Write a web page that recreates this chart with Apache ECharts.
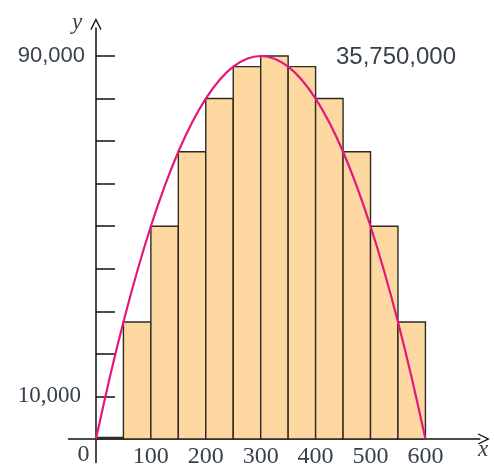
<!DOCTYPE html>
<html>
<head>
<meta charset="utf-8">
<script src="https://cdn.jsdelivr.net/npm/echarts@6/dist/echarts.min.js"></script>
<style>html,body{margin:0;padding:0;background:#fff}#c{width:494px;height:466px}</style>
</head>
<body>
<div id="c"></div>
<script>
// Rectangle left edges, right edges and heights (left-endpoint rectangles)
var barLeft = [0, 50, 100, 150, 200, 250, 300, 350, 400, 450, 500, 550];
var barRight = [50, 100, 150, 200, 250, 300, 350, 400, 450, 500, 550, 600];
var barHeight = [0, 27500, 50000, 67500, 80000, 87500, 90000, 87500, 80000, 67500, 50000, 27500];
// Curve points
var curveX = [0, 25, 50, 75, 100, 125, 150, 175, 200, 225, 250, 275, 300, 325, 350, 375, 400, 425, 450, 475, 500, 525, 550, 575, 600];
var curveY = [0, 14375, 27500, 39375, 50000, 59375, 67500, 74375, 80000, 84375, 87500, 89375, 90000, 89375, 87500, 84375, 80000, 74375, 67500, 59375, 50000, 39375, 27500, 14375, 0];
// Tick labels
var xLabels = [100, 200, 300, 400, 500, 600];
var yTicks = [10000, 20000, 30000, 40000, 50000, 60000, 70000, 80000, 90000];
var yLabels = [10000, 90000];
var totalText = '35,750,000';

var barData = barLeft.map(function (l, i) { return [l, barRight[i], barHeight[i]]; });
var curveData = curveX.map(function (x, i) { return [x, curveY[i]]; });

var txt = '#38404c';
var arrow = 'path://M0,10 L5,0 L10,10 L9,10.7 L5,2.6 L1,10.7 Z';
var chart = echarts.init(document.getElementById('c'));
chart.setOption({
  animation: false,
  grid: { left: 68.5, right: 14.2, top: 28, bottom: 3.6, containLabel: false, outerBoundsMode: 'none' },
  xAxis: {
    type: 'value', min: -50, max: 699,
    splitLine: { show: false },
    axisTick: { show: false },
    axisLine: { lineStyle: { color: '#111', width: 1.5 }, symbol: ['none', arrow], symbolSize: [13, 12], symbolOffset: [0, 4] },
    axisLabel: {
      customValues: xLabels, margin: -18, color: txt,
      fontFamily: 'Liberation Serif', fontSize: 24,
      formatter: function (v) { return String(v); }
    }
  },
  yAxis: {
    type: 'value', min: -5500, max: 96580,
    splitLine: { show: false },
    axisTick: { show: true, inside: true, length: 19, customValues: yTicks, lineStyle: { color: '#111', width: 1.5 } },
    axisLine: { lineStyle: { color: '#111', width: 1.5 }, symbol: ['none', arrow], symbolSize: [13, 12], symbolOffset: [0, 4] },
    axisLabel: {
      customValues: yLabels, margin: -16.5, color: txt,
      formatter: function (v) { return v === 90000 ? '{s|90,000}' : '{r|10,000}'; },
      rich: {
        s: { fontFamily: 'Liberation Sans', fontSize: 22, color: txt },
        r: { fontFamily: 'Liberation Serif', fontSize: 23, color: txt, padding: [0, 4, 0, 0] }
      }
    }
  },
  graphic: [
    { type: 'text', x: 83.5, y: 455, style: { text: '0', font: '24px "Liberation Serif"', fill: txt, textAlign: 'center', textVerticalAlign: 'middle' } },
    { type: 'text', x: 483, y: 450, style: { text: 'x', font: 'italic 23px "Liberation Serif"', fill: txt, textAlign: 'center', textVerticalAlign: 'middle' } },
    { type: 'text', x: 77, y: 23, style: { text: 'y', font: 'italic 23px "Liberation Serif"', fill: txt, textAlign: 'center', textVerticalAlign: 'middle' } },
    { type: 'text', x: 396, y: 57, style: { text: totalText, font: '24px "Liberation Sans"', fill: txt, textAlign: 'center', textVerticalAlign: 'middle' } }
  ],
  series: [
    {
      type: 'custom',
      data: barData,
      encode: { x: [0, 1], y: 2 },
      renderItem: function (params, api) {
        var p0 = api.coord([api.value(0), api.value(2)]);
        var p1 = api.coord([api.value(1), 0]);
        var zero = api.value(2) === 0;
        return {
          type: 'rect',
          shape: { x: p0[0], y: p0[1] - (zero ? 1.5 : 0), width: p1[0] - p0[0], height: p1[1] - p0[1] + (zero ? 1.5 : 0) },
          style: { fill: zero ? '#222' : '#fdd8a0', stroke: '#2e2a26', lineWidth: 1.4 }
        };
      },
      z: 2
    },
    {
      type: 'line', data: curveData, smooth: 0.3, showSymbol: false,
      lineStyle: { color: '#e3177c', width: 2.2 }, z: 3
    }
  ]
});
</script>
</body>
</html>
